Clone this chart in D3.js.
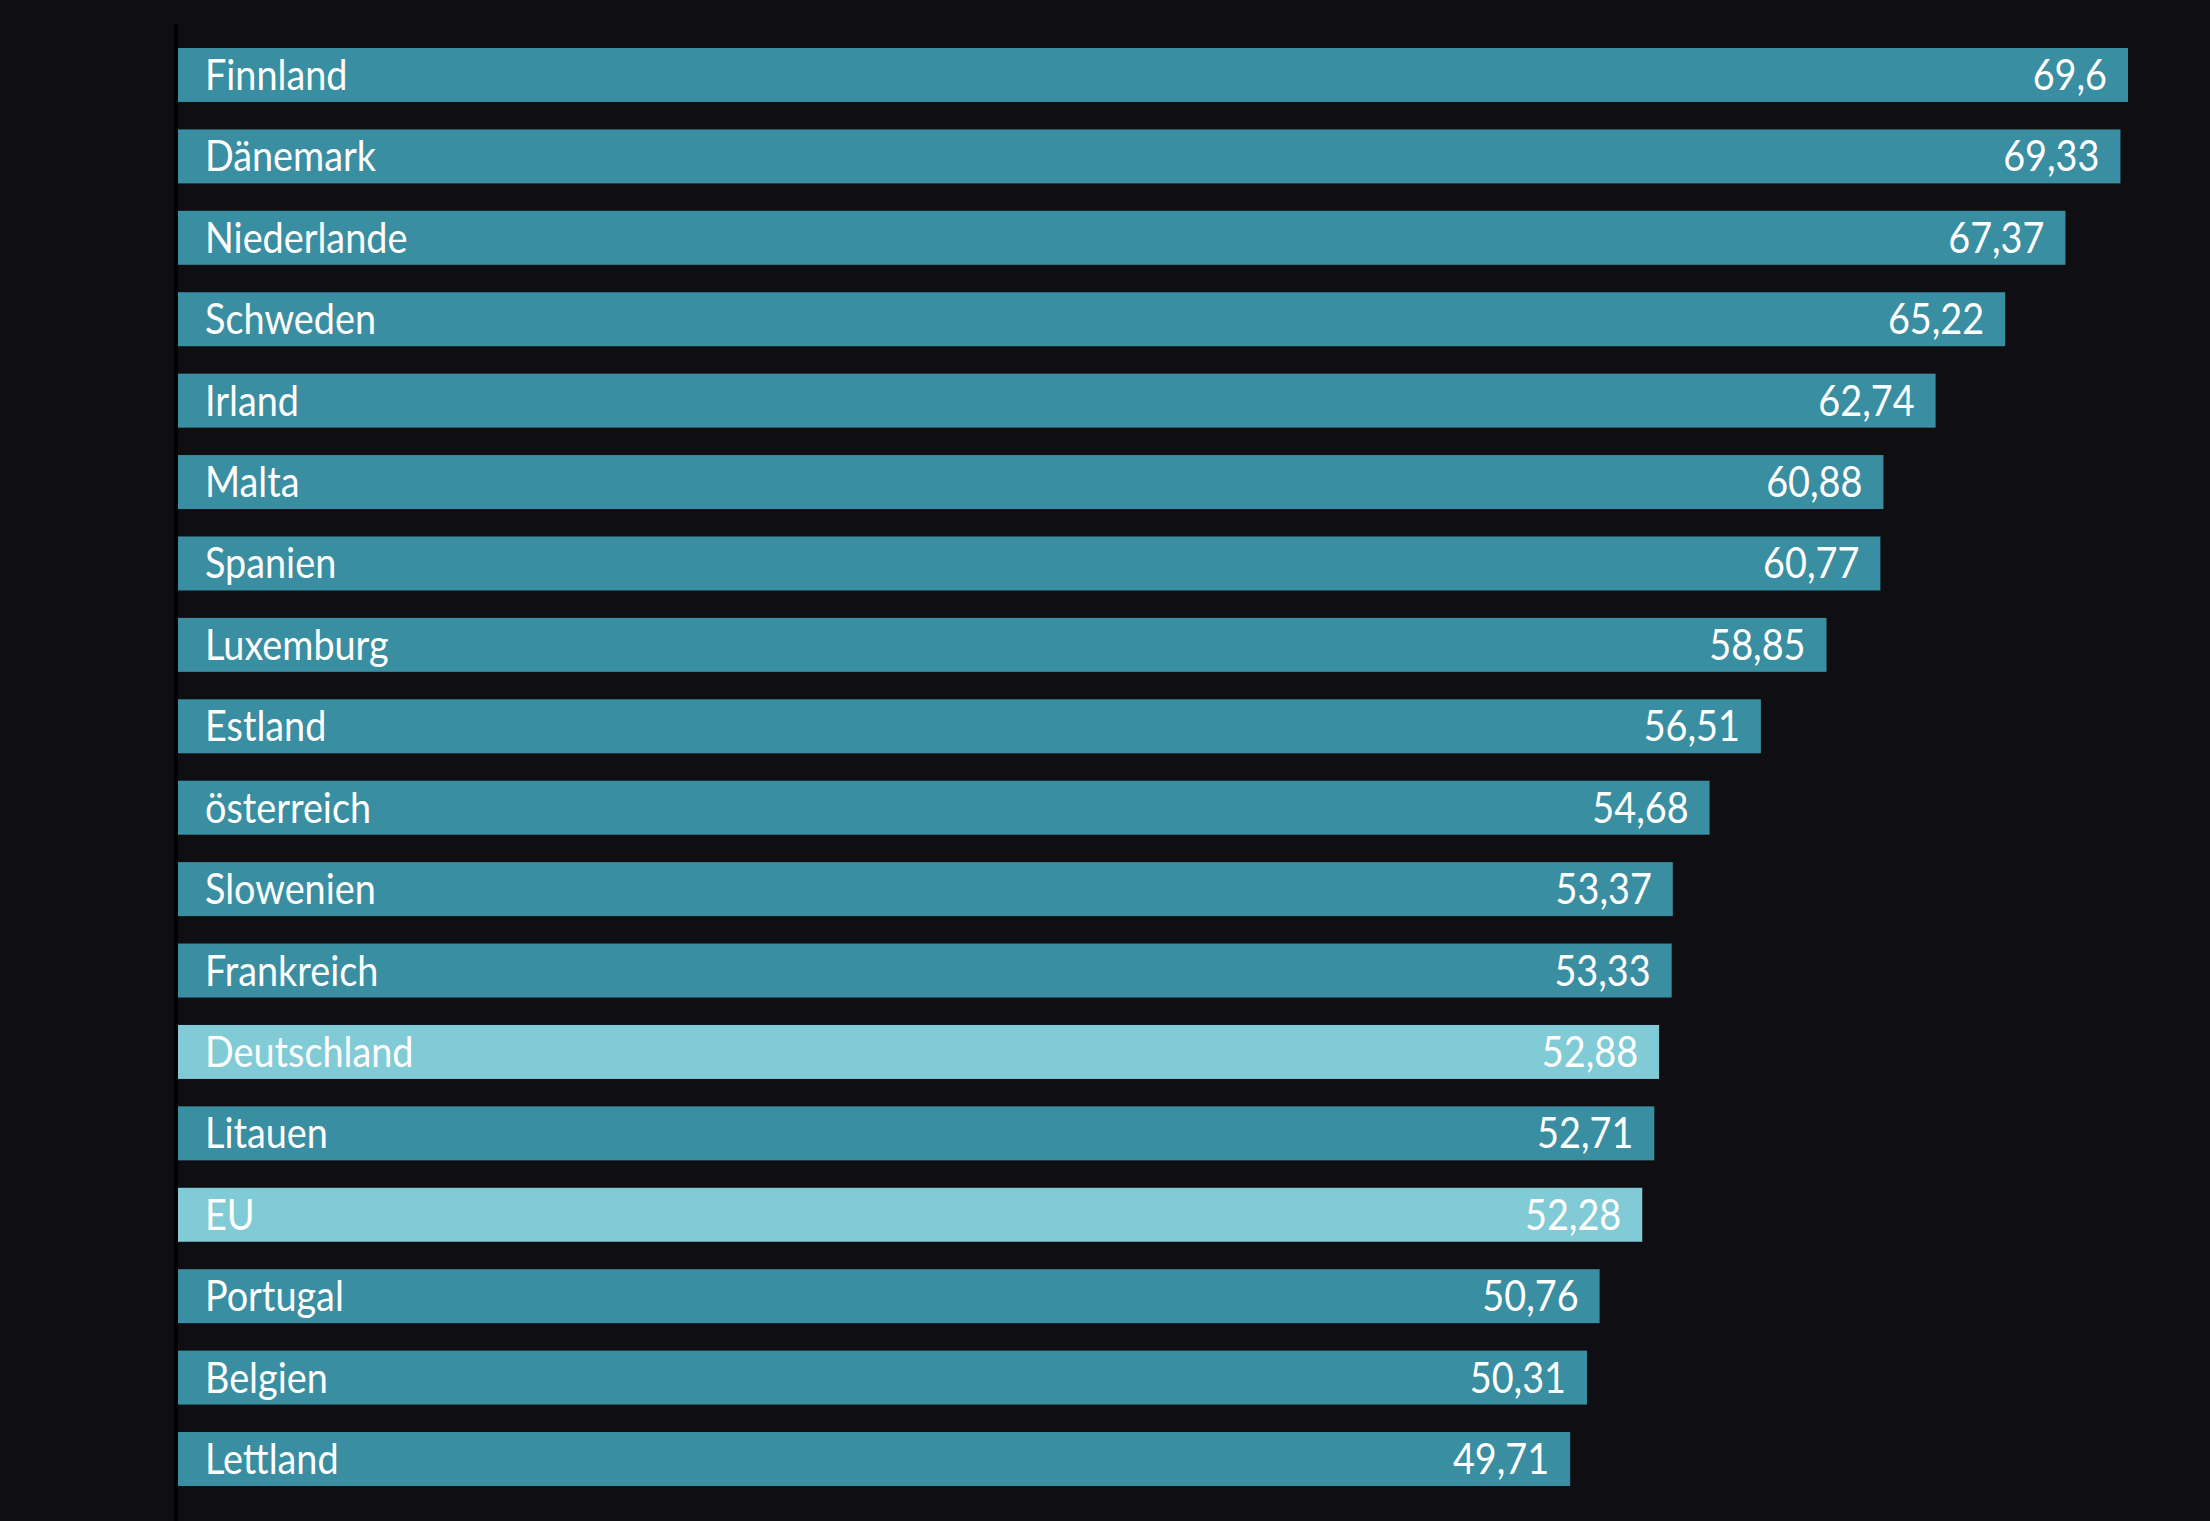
<!DOCTYPE html>
<html><head><meta charset="utf-8">
<script src="https://cdn.jsdelivr.net/npm/d3@7"></script>
<style>
html,body{margin:0;padding:0;background:#0f0f13;}
svg{display:block;}
</style></head>
<body>
<svg id="chart" width="2210" height="1521"></svg>
<script>
const countries = ["Finnland","Dänemark","Niederlande","Schweden","Irland","Malta","Spanien","Luxemburg","Estland","österreich","Slowenien","Frankreich","Deutschland","Litauen","EU","Portugal","Belgien","Lettland"];
const values = [69.6,69.33,67.37,65.22,62.74,60.88,60.77,58.85,56.51,54.68,53.37,53.33,52.88,52.71,52.28,50.76,50.31,49.71];
const highlighted = ["Deutschland","EU"];

const W = 2210, H = 1521;
const svg = d3.select("#chart");
svg.append("rect").attr("width", W).attr("height", H).attr("fill", "#0f0f13");

const x0 = 176;
const x = d3.scaleLinear().domain([0, 69.6]).range([x0, 2128]);
const y = d3.scaleBand().domain(countries).range([48, 1486]).paddingInner(0.337).paddingOuter(0);

const data = countries.map((c, i) => ({c, v: values[i]}));
const fmt = v => String(v).replace(".", ",");

const g = svg.append("g");
g.selectAll("rect.bar").data(data).enter().append("rect")
  .attr("class", "bar")
  .attr("x", x(0))
  .attr("y", d => y(d.c))
  .attr("width", d => x(d.v) - x(0))
  .attr("height", y.bandwidth())
  .attr("fill", d => highlighted.includes(d.c) ? "#80cbd5" : "#3a8ea2");

const sx = 0.9;
const fontSize = 42;
g.selectAll("text.name").data(data).enter().append("text")
  .attr("class", "name")
  .attr("transform", d => `translate(205,${y(d.c) + y.bandwidth()/2 + 15}) scale(${sx},1)`)
  .attr("font-family", "Lato, 'Open Sans', sans-serif")
  .attr("font-size", fontSize)
  .attr("fill", "#ffffff")
  .text(d => d.c);

g.selectAll("text.val").data(data).enter().append("text")
  .attr("class", "val")
  .attr("transform", d => `translate(${x(d.v) - 21},${y(d.c) + y.bandwidth()/2 + 15}) scale(${sx},1)`)
  .attr("text-anchor", "end")
  .attr("font-family", "Lato, 'Open Sans', sans-serif")
  .attr("font-size", fontSize)
  .attr("fill", "#ffffff")
  .text(d => fmt(d.v));

// axis line
svg.append("line")
  .attr("x1", x0).attr("x2", x0)
  .attr("y1", 24).attr("y2", H)
  .attr("stroke", "#000").attr("stroke-width", 4);
</script>
</body></html>
